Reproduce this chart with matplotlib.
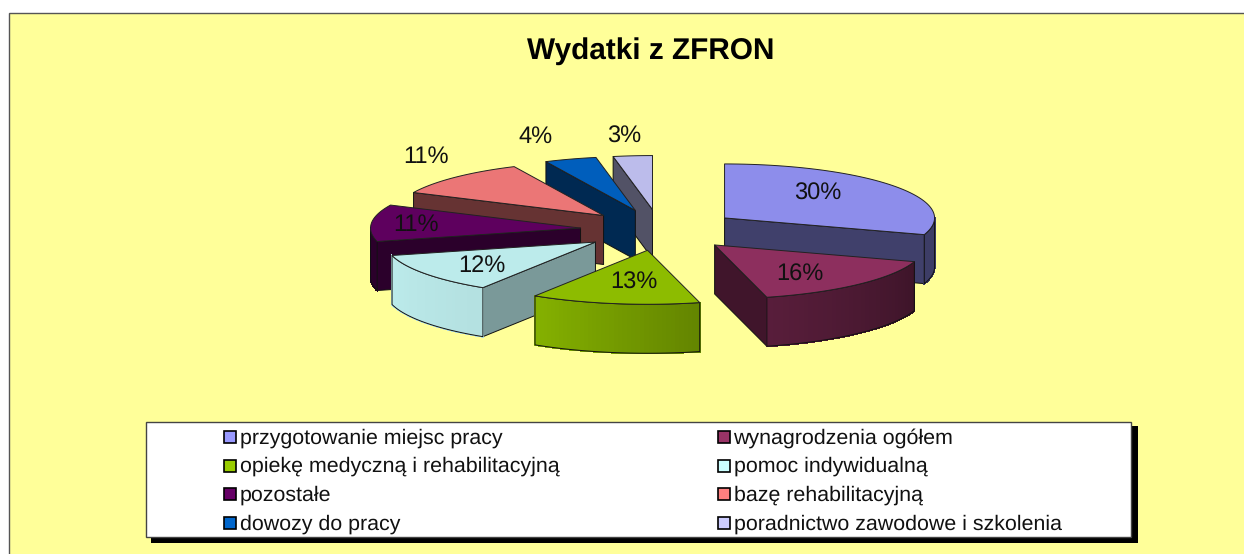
import numpy as np
import matplotlib
matplotlib.use("Agg")
import matplotlib.pyplot as plt
from matplotlib.collections import PolyCollection
from matplotlib.colors import to_rgb
from matplotlib.patches import Polygon, Rectangle

plt.rcParams['font.family'] = ['Liberation Sans', 'DejaVu Sans']
plt.rcParams['text.hinting'] = 'no_hinting'
plt.rcParams['text.hinting_factor'] = 8

# Data
title = "Wydatki z ZFRON"
categories = [
    "przygotowanie miejsc pracy",
    "wynagrodzenia ogółem",
    "opiekę medyczną i rehabilitacyjną",
    "pomoc indywidualną",
    "pozostałe",
    "bazę rehabilitacyjną",
    "dowozy do pracy",
    "poradnictwo zawodowe i szkolenia",
]
values = [30, 16, 13, 12, 11, 11, 4, 3]
colors = ["#9999FF", "#993366", "#99CC00", "#CCFFFF",
          "#660066", "#FF8080", "#0066CC", "#CCCCFF"]

# Pie geometry, in pixels of the picture
CX, CY = 660, 230
RX, RY = 210, 54
DEPTH = 49
EXPLODE = 0.38
TOP_SHADE = 0.92
cut_shade = [0.42, 0.42, 0.42, 0.6, 0.42, 0.4, 0.4, 0.4]
arc_shade = [(0.4, 0.4), (0.4, 0.58), (0.65, 0.87), (0.88, 0.92),
             (0.42, 0.42), (0.4, 0.4), (0.4, 0.4), (0.4, 0.4)]
label_pos = [(818, 194), (800, 275), (634, 283), (482, 266),
             (416, 225), (426, 157), (536, 137), (624, 137)]


def shaded(color, k):
    return tuple(c * k for c in to_rgb(color))


def rim(tip, deg):
    # clockwise from 12 o'clock, squashed to the ellipse
    a = np.radians(deg)
    return np.array([tip[0] + RX * np.sin(a), tip[1] - RY * np.cos(a)])


def quad(p, q):
    down = np.array([0, DEPTH])
    return [p, q, q + down, p + down]


def faces_viewer(tip, p, inside):
    d = p - tip
    n = np.array([-d[1], d[0]])
    if np.dot(n, inside - tip) > 0:
        n = -n
    return n[1] > 1e-6


def draw_slice(ax, start, end, color, cut_k, arc_k):
    mid = np.radians((start + end) / 2)
    tip = np.array([CX + EXPLODE * RX * np.sin(mid), CY - EXPLODE * RY * np.cos(mid)])
    inside = rim(tip, (start + end) / 2)

    # the two cut faces
    for deg in (start, end):
        p = rim(tip, deg)
        if faces_viewer(tip, p, inside):
            ax.add_patch(Polygon(quad(tip, p), closed=True, fc=shaded(color, cut_k),
                                 ec="#111111", lw=0.7, joinstyle="round"))

    # outer wall, only the part that looks to the front
    a0, a1 = max(start, 90), min(end, 270)
    if a1 > a0:
        degs = np.linspace(a0, a1, 40)
        pts = [rim(tip, d) for d in degs]
        quads = [quad(pts[i], pts[i + 1]) for i in range(len(pts) - 1)]
        ks = np.interp(degs[:-1], [start, end], arc_k)
        cols = [shaded(color, k) for k in ks]
        ax.add_collection(PolyCollection(quads, facecolors=cols, edgecolors=cols,
                                         linewidths=0.8, antialiaseds=False))
        outline = pts + [p + np.array([0, DEPTH]) for p in pts[::-1]]
        ax.add_patch(Polygon(outline, closed=True, fill=False, ec="#111111", lw=0.7))

    # top face
    degs = np.linspace(start, end, 60)
    top = [tip] + [rim(tip, d) for d in degs]
    ax.add_patch(Polygon(top, closed=True, fc=shaded(color, TOP_SHADE), ec="#222222",
                         lw=0.7, joinstyle="round"))
    return tip


fig = plt.figure(figsize=(12.44, 5.54), dpi=100, facecolor="white")
ax = fig.add_axes([0, 0, 1, 1])
ax.set_xlim(0, 1244)
ax.set_ylim(554, 0)
ax.axis("off")

# yellow chart area, runs off the right and bottom of the picture
ax.add_patch(Rectangle((9, 13), 1300, 600, fc="#FFFF99", ec="#555555", lw=1.0))
ax.text(651, 51, title, ha="center", va="center", fontsize=21.4, fontweight="bold", color="black")

# slices, back to front
edges = np.concatenate([[0], np.cumsum(values)]) / np.sum(values) * 360
mids = (edges[:-1] + edges[1:]) / 2
order = np.argsort(-np.cos(np.radians(mids)))
for i in order:
    draw_slice(ax, edges[i], edges[i + 1], colors[i], cut_shade[i], arc_shade[i])

for val, (x, y) in zip(values, label_pos):
    ax.text(x, y, f"{val}%", ha="center", va="center", fontsize=17, color="#111111")

# legend box with its shadow
ax.add_patch(Rectangle((151, 426), 987, 117, fc="black", ec="none"))
ax.add_patch(Rectangle((146, 422), 985, 115, fc="white", ec="#444444", lw=1.0))
col_x = [223.5, 717.5]
row_base = [443.5, 472, 500.5, 529.5]
for i, (name, color) in enumerate(zip(categories, colors)):
    x = col_x[i % 2]
    y = row_base[i // 2]
    ax.add_patch(Rectangle((x, y - 12.5), 12.5, 12, fc=color, ec="black", lw=1.2))
    ax.text(x + 16, y, name, ha="left", va="baseline", fontsize=15.4, color="#111111")

fig.savefig("out.png", dpi=100)
